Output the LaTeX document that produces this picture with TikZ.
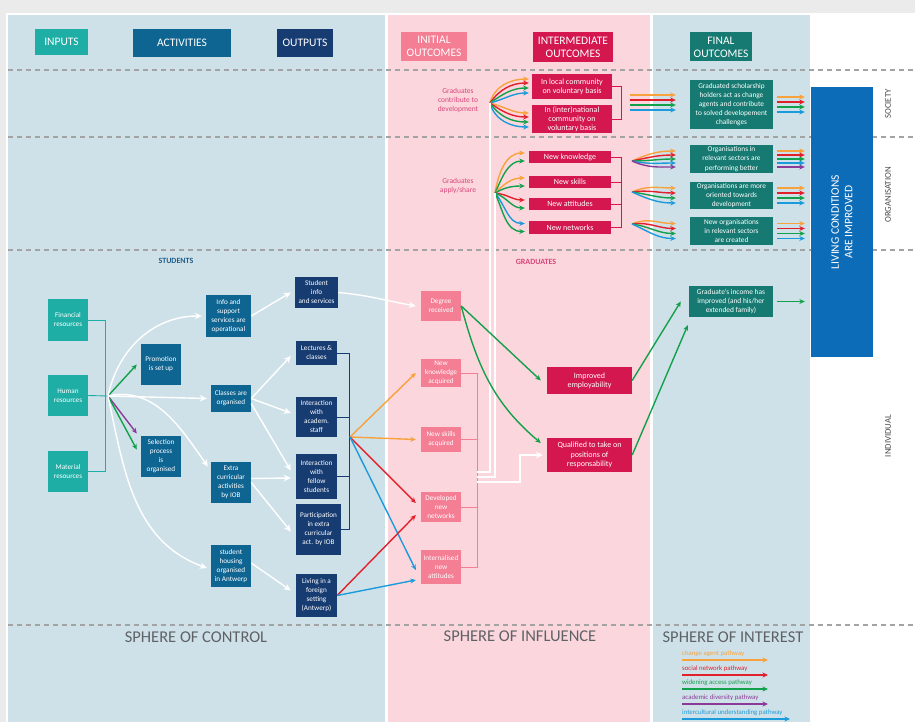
\documentclass[tikz,border=0pt]{standalone}
\usepackage{fontspec}
\setmainfont{Carlito}
\usetikzlibrary{positioning, arrows.meta}
\definecolor{pagegray}{HTML}{EBEBEB}
\definecolor{bgblue}{HTML}{CFE1E8}
\definecolor{bgpink}{HTML}{FCD6DD}
\definecolor{teal1}{HTML}{1FAEA6}
\definecolor{actblue}{HTML}{0F6592}
\definecolor{outnavy}{HTML}{173C72}
\definecolor{inipink}{HTML}{F47E94}
\definecolor{midred}{HTML}{D4174F}
\definecolor{finteal}{HTML}{177A72}
\definecolor{livblue}{HTML}{0D6CB8}
\definecolor{pOrange}{HTML}{F7A23C}
\definecolor{pRed}{HTML}{E2202C}
\definecolor{pGreen}{HTML}{13A04B}
\definecolor{pPurple}{HTML}{8C3A97}
\definecolor{pBlue}{HTML}{1B9BDB}
\definecolor{txtpink}{HTML}{D8457A}
\definecolor{stutxt}{HTML}{1F5D8A}
\definecolor{dashgray}{HTML}{A3A3A3}
\definecolor{spheregray}{HTML}{5E6266}
\definecolor{sidegray}{HTML}{4A4A4A}
\tikzset{
>={Stealth[length=5.5pt, width=5pt]}, % arrow heads
wh/.style 2 args={minimum width=#1, minimum height=#2}, % size of a box
box/.style={inner sep=1pt, text=white, align=center, font=\fontsize{7.2}{9}\selectfont},
head/.style={box, font=\fontsize{11.5}{13}\selectfont},
inbox/.style={box, fill=teal1},
actbox/.style={box, fill=actblue},
outbox/.style={box, fill=outnavy},
inibox/.style={box, fill=inipink},
midbox/.style={box, fill=midred, font=\fontsize{8}{9.2}\selectfont},
finbox/.style={box, fill=finteal, font=\fontsize{7.3}{9.2}\selectfont},
fan/.style={->, line width=1.4pt}, % coloured pathway arrows
wline/.style={white, line width=1.4pt},
warrow/.style={wline, -{Stealth[length=7pt, width=6.5pt]}},
garrow/.style={->, pGreen, line width=1.4pt},
brk/.style={line width=0.9pt}, % brackets behind a column of boxes
sepline/.style={dashgray, dash pattern=on 5pt off 4pt, line width=1.1pt},
sphere/.style={text=spheregray, font=\fontsize{16.5}{18}\selectfont},
side/.style={rotate=90, text=sidegray, font=\fontsize{8.8}{10}\selectfont},
grad/.style={text=txtpink, align=center, font=\fontsize{7.5}{9}\selectfont},
leg/.style={font=\fontsize{6.8}{8}\selectfont, inner sep=0pt, anchor=south west}
}

\begin{document}
\begin{tikzpicture}[x=1pt, y=-1pt]
\useasboundingbox (0,0) rectangle (915,722);
\fill[pagegray] (0,0) rectangle (915,722);
\fill[white] (6,13) rectangle (915,722);
\fill[bgblue] (8,15) rectangle (385,722);
\fill[bgpink] (388,15) rectangle (650,722);
\fill[bgblue] (653,15) rectangle (810,722);
\foreach \y in {70,137,250,625}
  \draw[sepline] (8,\y) -- (915,\y);

\node[head, fill=teal1, wh={53}{26}] (hin) at (61.5,42) {INPUTS};
\node[head, fill=actblue, wh={98}{28}] (hact) at (182,43) {ACTIVITIES};
\node[head, fill=outnavy, wh={56}{28}] (hout) at (305,43) {OUTPUTS};
\node[head, fill=inipink, wh={66}{29}] (hini) at (434,46.5) {INITIAL\\OUTCOMES};
\node[head, fill=midred, wh={80}{30}] (hmid) at (573,47) {INTERMEDIATE\\OUTCOMES};
\node[head, fill=finteal, wh={62}{29}] (hfin) at (721,47) {FINAL\\OUTCOMES};

\node[side] (soc) at (888,104) {SOCIETY};
\node[side] (org) at (888,195) {ORGANISATION};
\node[side] (ind) at (888,436) {INDIVIDUAL};
\node[box, fill=livblue, rotate=90, wh={270}{62}, font=\fontsize{11.5}{13.5}\selectfont] (live) at (842,222) {LIVING CONDITIONS\\ARE IMPROVED};

% society
\node[grad] (gr1) at (458,101) {Graduates\\contribute to\\development};
\coordinate (f1) at (490,103);
\node[midbox, wh={80}{25}] (mid1) at (572,86.5) {In local community\\on voluntary basis};
\node[midbox, wh={80}{28}] (mid2) at (572,119) {In (inter)national\\community on\\voluntary basis};
\node[finbox, wh={83}{49}] (fin1) at (731.5,104.5) {Graduated scholarship\\holders act as change\\agents and contribute\\to solved developement\\challenges};
\draw[brk, midred] (mid1.east) -- ++(9,0) |- (mid2.east);
\coordinate (b1) at (630,102.5);
\foreach \c/\s/\o in {pOrange/7.5/75, pRed/3.5/55, pGreen/-1.5/35, pBlue/-6.5/15}
  \draw[fan, \c] (f1) to[out=\o, in=180] ([xshift=-3pt, yshift=\s pt]mid1.west);
\foreach \c/\s/\o in {pOrange/6/-15, pRed/2/-35, pGreen/-3/-55, pBlue/-8/-75}
  \draw[fan, \c] (f1) to[out=\o, in=180] ([xshift=-3pt, yshift=\s pt]mid2.west);
\foreach \c/\s in {pOrange/7.5, pRed/2.5, pGreen/-2.5, pBlue/-7.5} {
  \draw[fan, \c] ([yshift=\s pt]b1) -- ([xshift=-14pt, yshift=\s pt]fin1.west |- b1);
  \draw[fan, \c] ([xshift=4pt, yshift=\s pt]fin1.east) -- ([xshift=-6pt, yshift=\s pt]live.north |- fin1.east);
}

% organisation
\node[grad] (gr2) at (458,186) {Graduates\\apply/share};
\coordinate (f2) at (495,193);
\node[midbox, wh={82}{12}] (mid3) at (570,157) {New knowledge};
\node[midbox, wh={82}{12}] (mid4) at (570,182) {New skills};
\node[midbox, wh={82}{12}] (mid5) at (570,204) {New attitudes};
\node[midbox, wh={82}{13}] (mid6) at (570,227.5) {New networks};
\node[finbox, wh={83}{28}] (fin2) at (731.5,159) {Organisations in\\relevant sectors are\\performing better};
\node[finbox, wh={83}{27}] (fin3) at (731.5,195.5) {Organisations are more\\oriented towards\\development};
\node[finbox, wh={83}{28}] (fin4) at (731.5,231) {New organisations\\in relevant sectors\\are created};
\draw[brk, midred] (mid3.east) -- ++(10,0) |- (mid6.east);
\draw[brk, midred] (mid4.east) -- ++(10,0);
\draw[brk, midred] (mid5.east) -- ++(10,0);
\foreach \c/\n/\s/\o in {pOrange/mid3/4/80, pGreen/mid3/-4/65, pOrange/mid4/4/45, pGreen/mid4/-4/30, pRed/mid5/4/-5, pGreen/mid5/-4/-20, pBlue/mid6/4/-50, pGreen/mid6/-4/-65}
  \draw[fan, \c] (f2) to[out=\o, in=180] ([xshift=-4pt, yshift=\s pt]\n.west);
\coordinate (o1) at (632,161);
\coordinate (o2) at (632,192);
\coordinate (o3) at (632,224);
\foreach \c/\s/\o in {pOrange/8/24, pRed/4/12, pGreen/0/0, pBlue/-4/-12, pPurple/-8/-24} {
  \draw[fan, \c] (o1) to[out=\o, in=180] ([xshift=-14pt, yshift=\s pt]fin2.west);
  \draw[fan, \c] ([xshift=4pt, yshift=\s pt]fin2.east) -- ([xshift=-6pt, yshift=\s pt]live.north |- fin2.east);
}
\foreach \c/\s/\o in {pOrange/7.5/24, pRed/2.5/8, pGreen/-2.5/-8, pBlue/-7.5/-24} {
  \draw[fan, \c] (o2) to[out=\o, in=180] ([xshift=-14pt, yshift=\s pt]fin3.west);
  \draw[fan, \c] (o3) to[out=\o, in=180] ([xshift=-14pt, yshift=\s pt]fin4.west);
  \draw[fan, \c] ([xshift=4pt, yshift=\s pt]fin3.east) -- ([xshift=-6pt, yshift=\s pt]live.north |- fin3.east);
  \draw[fan, \c] ([xshift=4pt, yshift=\s pt]fin4.east) -- ([xshift=-6pt, yshift=\s pt]live.north |- fin4.east);
}

% individual
\node[font=\bfseries\fontsize{8}{9}\selectfont, text=stutxt] (stu) at (176,261) {STUDENTS};
\node[font=\bfseries\fontsize{8}{9}\selectfont, text=txtpink] (gra) at (536,262) {GRADUATES};

\node[inbox, wh={40}{42}] (in1) at (68,320) {Financial\\resources};
\node[inbox, wh={40}{41}] (in2) at (68,395.5) {Human\\resources};
\node[inbox, wh={40}{41}] (in3) at (68,471.5) {Material\\resources};
\coordinate (fa) at (108,396);
\draw[brk, teal1] (in1.east) -- ++(17,0) |- (in3.east);
\draw[brk, teal1] (in2.east) -- (fa);

\node[actbox, wh={40}{41}] (act1) at (161,364.5) {Promotion\\is set up};
\node[actbox, wh={40}{41}] (act2) at (161,456.5) {Selection\\process\\is\\organised};
\node[actbox, wh={45}{42}] (act3) at (228.5,316) {Info and\\support\\services are\\operational};
\node[actbox, wh={40}{27}] (act4) at (231,398.5) {Classes are\\organised};
\node[actbox, wh={40}{41}] (act5) at (231,482.5) {Extra\\curricular\\activities\\by IOB};
\node[actbox, wh={40}{42}] (act6) at (231,566) {student\\housing\\organised\\in Antwerp};

\draw[fan, pGreen] (fa) -- ([xshift=-4pt]act1.west);
\draw[fan, pPurple] (fa) -- ([xshift=-4pt, yshift=23pt]act2.west);
\draw[fan, pGreen] (fa) -- ([xshift=-4pt, yshift=7pt]act2.west);
\draw[warrow] (fa) to[out=78, in=180] ([xshift=-4pt]act3.west);
\draw[warrow] (fa) -- ([xshift=-4pt]act4.west);
\draw[warrow] (fa) to[out=12, in=125] ([xshift=-3pt, yshift=16pt]act5.west);
\draw[warrow] (fa) to[out=-78, in=160] ([xshift=-4pt, yshift=-2pt]act6.west);

\node[outbox, wh={43}{31}] (out1) at (316.5,292.5) {Student\\info\\and services};
\node[outbox, wh={41}{24}] (out2) at (316.5,353) {Lectures \&\\classes};
\node[outbox, wh={41}{40}] (out3) at (316.5,417) {Interaction\\with\\academ.\\staff};
\node[outbox, wh={41}{45}] (out4) at (316.5,476.5) {Interaction\\with\\fellow\\students};
\node[outbox, wh={45}{51}] (out5) at (318.5,529.5) {Participation\\in extra\\curricular\\act. by IOB};
\node[outbox, wh={41}{43}] (out6) at (316.5,595.5) {Living in a\\foreign\\setting\\(Antwerp)};

\draw[warrow] (act3.east) -- ([xshift=-4pt]out1.west);
\draw[warrow] (act4.east) -- ([xshift=-5pt, yshift=-3pt]out2.west);
\draw[warrow] (act4.east) -- ([xshift=-5pt, yshift=4pt]out3.west);
\draw[warrow] ([yshift=-5pt]act4.east) -- ([xshift=-5pt, yshift=6pt]out4.west);
\draw[warrow] ([yshift=4pt]act5.east) -- ([xshift=-5pt, yshift=-1.5pt]out4.west);
\draw[warrow] (act5.east) -- ([xshift=-5pt, yshift=-2pt]out5.west);
\draw[warrow] ([yshift=3pt]act6.east) -- ([xshift=-5pt, yshift=5pt]out6.west);

\draw[brk, outnavy] (out2.east) -- ++(12,0) |- (out5.east);
\draw[brk, outnavy] (out3.east) -- ++(12,0);
\draw[brk, outnavy] (out4.east) -- ++(12,0);
\coordinate (fb) at (350,437);

\node[inibox, wh={40}{30}] (ini1) at (441,306) {Degree\\received};
\node[inibox, wh={40}{28}] (ini2) at (441,373) {New\\knowledge\\acquired};
\node[inibox, wh={40}{25}] (ini3) at (441,439.5) {New skills\\acquired};
\node[inibox, wh={40}{30}] (ini4) at (441,507) {Developed\\new\\networks};
\node[inibox, wh={40}{34}] (ini5) at (441,567) {Internalised\\new\\attitudes};

\draw[warrow] (out1.east) to[out=-5, in=170] ([xshift=-5pt]ini1.west);
\draw[fan, pOrange] (fb) -- ([xshift=-5pt]ini2.west);
\draw[fan, pOrange] (fb) -- ([xshift=-5pt]ini3.west);
\draw[fan, pRed] (fb) -- ([xshift=-5pt, yshift=4pt]ini4.west);
\draw[fan, pBlue] (fb) -- ([xshift=-5pt, yshift=-3pt]ini5.west);
\draw[fan, pRed] (out6.east) -- ([xshift=-5pt, yshift=-8pt]ini4.west);
\draw[fan, pBlue] (out6.east) -- ([xshift=-5pt, yshift=-13pt]ini5.west);

\draw[brk, inipink, line width=0.7pt] (ini2.east) -- ++(16,0) |- (ini5.east);
\draw[brk, inipink, line width=0.7pt] (ini3.east) -- ++(16,0);
\draw[brk, inipink, line width=0.7pt] (ini4.east) -- ++(16,0);
\coordinate (fc1) at (477,472);
\coordinate (fc2) at (477,477);
\coordinate (fc3) at (477,482);

\node[midbox, wh={85}{27}] (mid7) at (589.5,380.5) {Improved\\employability};
\node[midbox, wh={85}{34}] (mid8) at (589.5,455) {Qualified to take on\\positions of\\responsability};
\draw[wline] (fc1) -| (f1);
\draw[wline] (fc2) -| (f2);
\draw[warrow] (fc3) -| ([xshift=-27pt]mid8.west) -- ([xshift=-4pt]mid8.west);
\draw[garrow] (ini1.east) -- ([xshift=-6pt]mid7.west);
\draw[garrow] (ini1.east) to[out=-75, in=140] ([xshift=-6pt, yshift=12pt]mid8.west);

\node[finbox, wh={84}{31}, font=\fontsize{7.4}{9}\selectfont] (fin5) at (731,301.5) {Graduate's income has\\improved (and his/her\\extended family)};
\draw[garrow] (mid7.east) -- ([xshift=-8pt]fin5.west);
\draw[garrow] (mid8.east) -- ([xshift=-1pt, yshift=-8pt]fin5.south west);
\draw[garrow] ([xshift=4pt]fin5.east) -- ([xshift=-6pt]live.north |- fin5.east);

% spheres and legend
\node[sphere] (sc) at (196,637) {SPHERE OF CONTROL};
\node[sphere] (sf) at (520,636) {SPHERE OF INFLUENCE};
\node[sphere] (si) at (733,637) {SPHERE OF INTEREST};
\foreach \c/\t/\y/\e in {pOrange/change agent pathway/660/768, pRed/social network pathway/675/768, pGreen/widening access pathway/689/768, pPurple/academic diversity pathway/704/768, pBlue/intercultural understanding pathway/719/790} {
  \node[leg, text=\c] at (682,\y-3) {\t};
  \draw[fan, \c] (682,\y) -- (\e,\y);
}
\end{tikzpicture}
\end{document}
